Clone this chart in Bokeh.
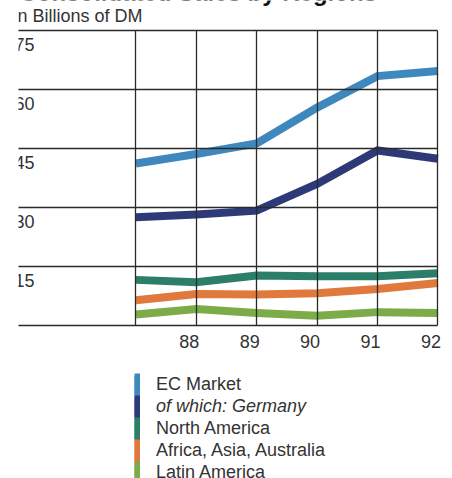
from bokeh.plotting import figure
from bokeh.models import Range1d, FixedTicker, Legend, LegendItem
from bokeh.core.properties import value
from bokeh.embed import file_html
from bokeh.resources import INLINE

# Sales by region, in billions of DM
years = [87, 88, 89, 90, 91, 92]
ec_market = [41.2, 43.6, 46.3, 55.4, 63.4, 64.7]
germany = [27.5, 28.2, 29.2, 36.0, 44.5, 42.4]
north_america = [11.6, 11.0, 12.7, 12.5, 12.5, 13.3]
africa_asia_australia = [6.4, 8.0, 7.9, 8.2, 9.3, 10.8]
latin_america = [2.8, 4.2, 3.2, 2.5, 3.4, 3.2]

series_names = ["EC Market", "of which: Germany", "North America",
                "Africa, Asia, Australia", "Latin America"]
series_values = [ec_market, germany, north_america, africa_asia_australia, latin_america]
series_colors = ["#3f88bd", "#2e3a78", "#2b7f69", "#e0793c", "#7cab4a"]
italic_series = 1   # "of which: Germany" is a sub-total, set in italics

y_ticks = [0, 15, 30, 45, 60, 75]
y_tick_labels = ["15", "30", "45", "60", "75"]
x_tick_labels = [88, 89, 90, 91, 92]

title_text = "Consolidated Sales by Regions"
subtitle_text = "In Billions of DM"

FONT = "Liberation Sans"
TEXT_COLOR = "#333333"
GRID_COLOR = "#2a2a2a"

# The frame fills the page: headings, year labels and legend all live inside it.
PX_PER_YEAR = 60.4
PX_PER_UNIT = 295 / 75
FRAME_W, FRAME_H = 434, 478
X0 = 92.01 - 420 / PX_PER_YEAR
X1 = X0 + FRAME_W / PX_PER_YEAR
Y1 = 75 + 30 / PX_PER_UNIT
Y0 = Y1 - FRAME_H / PX_PER_UNIT

p = figure(frame_width=FRAME_W, frame_height=FRAME_H,
           x_range=Range1d(X0, X1), y_range=Range1d(Y0, Y1),
           x_axis_location=None, y_axis_location=None,
           output_backend="svg", toolbar_location=None,
           min_border_left=18, min_border_right=0,
           min_border_top=0, min_border_bottom=0,
           outline_line_color=None,
           background_fill_color="white", border_fill_color="white")

# grid: horizontal rules end at the last year, vertical rules span 0..75 only
p.ygrid.ticker = FixedTicker(ticks=y_ticks)
p.ygrid.cross_bounds = (X0, years[-1])
p.xgrid.ticker = FixedTicker(ticks=years)
p.xgrid.cross_bounds = (y_ticks[0], y_ticks[-1])
for g in (p.xgrid, p.ygrid):
    g.grid_line_color = GRID_COLOR
    g.grid_line_width = 1.3
    g.level = "overlay"

# data lines
for vals, color in zip(series_values, series_colors):
    p.line(years, vals, line_color=color, line_width=8, line_join="miter")

# year labels under the bottom rule, set just left of their rules
p.text(x=x_tick_labels, y=[y_ticks[0]] * len(x_tick_labels),
       text=[str(v) for v in x_tick_labels],
       x_offset=-7, y_offset=15.5, text_align="center", text_baseline="alphabetic",
       text_font=value(FONT), text_font_size="18px", text_color=TEXT_COLOR)

# value labels inside the frame, under each rule
p.text(x=[X0] * len(y_tick_labels), y=y_ticks[1:], text=y_tick_labels,
       x_offset=-4, y_offset=13.5, text_align="left", text_baseline="alphabetic",
       text_font=value(FONT), text_font_size="18px", text_color=TEXT_COLOR)

# headings
p.text(x=[X0], y=[Y1], text=[subtitle_text], x_offset=-6, y_offset=15,
       text_align="left", text_baseline="alphabetic",
       text_font=value(FONT), text_font_size="18px", text_color=TEXT_COLOR)
p.text(x=[X0], y=[Y1], text=[title_text], x_offset=1, y_offset=-7.8,
       text_align="left", text_baseline="alphabetic",
       text_font=value(FONT), text_font_size="24px", text_font_style="bold",
       text_color="#111111")

# legend: a single stack of rows whose swatches form one continuous colour bar
ROW_H = 22
LEGEND_TOP = 373
LEGEND_X = 116
SEAM_FILL = 3   # second swatch pass, shifted down, closes the seams between rows
nan = float("nan")
legend_style = dict(glyph_width=6, glyph_height=ROW_H, label_height=ROW_H,
                    label_standoff=16, padding=0, margin=0, spacing=0,
                    border_line_color=None, background_fill_alpha=0,
                    label_text_font=FONT, label_text_font_size="18px",
                    label_text_color=TEXT_COLOR)
swatches = [p.line(x=[nan], y=[nan], line_color=color, line_width=ROW_H)
            for color in series_colors]
n_rows = len(swatches)
legend_y = FRAME_H - LEGEND_TOP - ROW_H * n_rows

seam_legend = Legend(items=[LegendItem(label=" ", renderers=[s]) for s in swatches],
                     location=(LEGEND_X, legend_y - SEAM_FILL), **legend_style)
p.add_layout(seam_legend, "center")

main_legend = Legend(items=[LegendItem(label=" " if i == italic_series else name,
                                       renderers=[s])
                            for i, (name, s) in enumerate(zip(series_names, swatches))],
                     location=(LEGEND_X, legend_y), **legend_style)
p.add_layout(main_legend, "center")

# the italic row's text, laid over its row with an invisible swatch
ghost = p.line(x=[nan], y=[nan], line_alpha=0, line_width=1)
italic_legend = Legend(items=[LegendItem(label=series_names[italic_series],
                                         renderers=[ghost])],
                       location=(LEGEND_X,
                                 FRAME_H - LEGEND_TOP - ROW_H * (italic_series + 1)),
                       label_text_font_style="italic", **legend_style)
p.add_layout(italic_legend, "center")

open("out.html", "w").write(file_html(p, INLINE))
